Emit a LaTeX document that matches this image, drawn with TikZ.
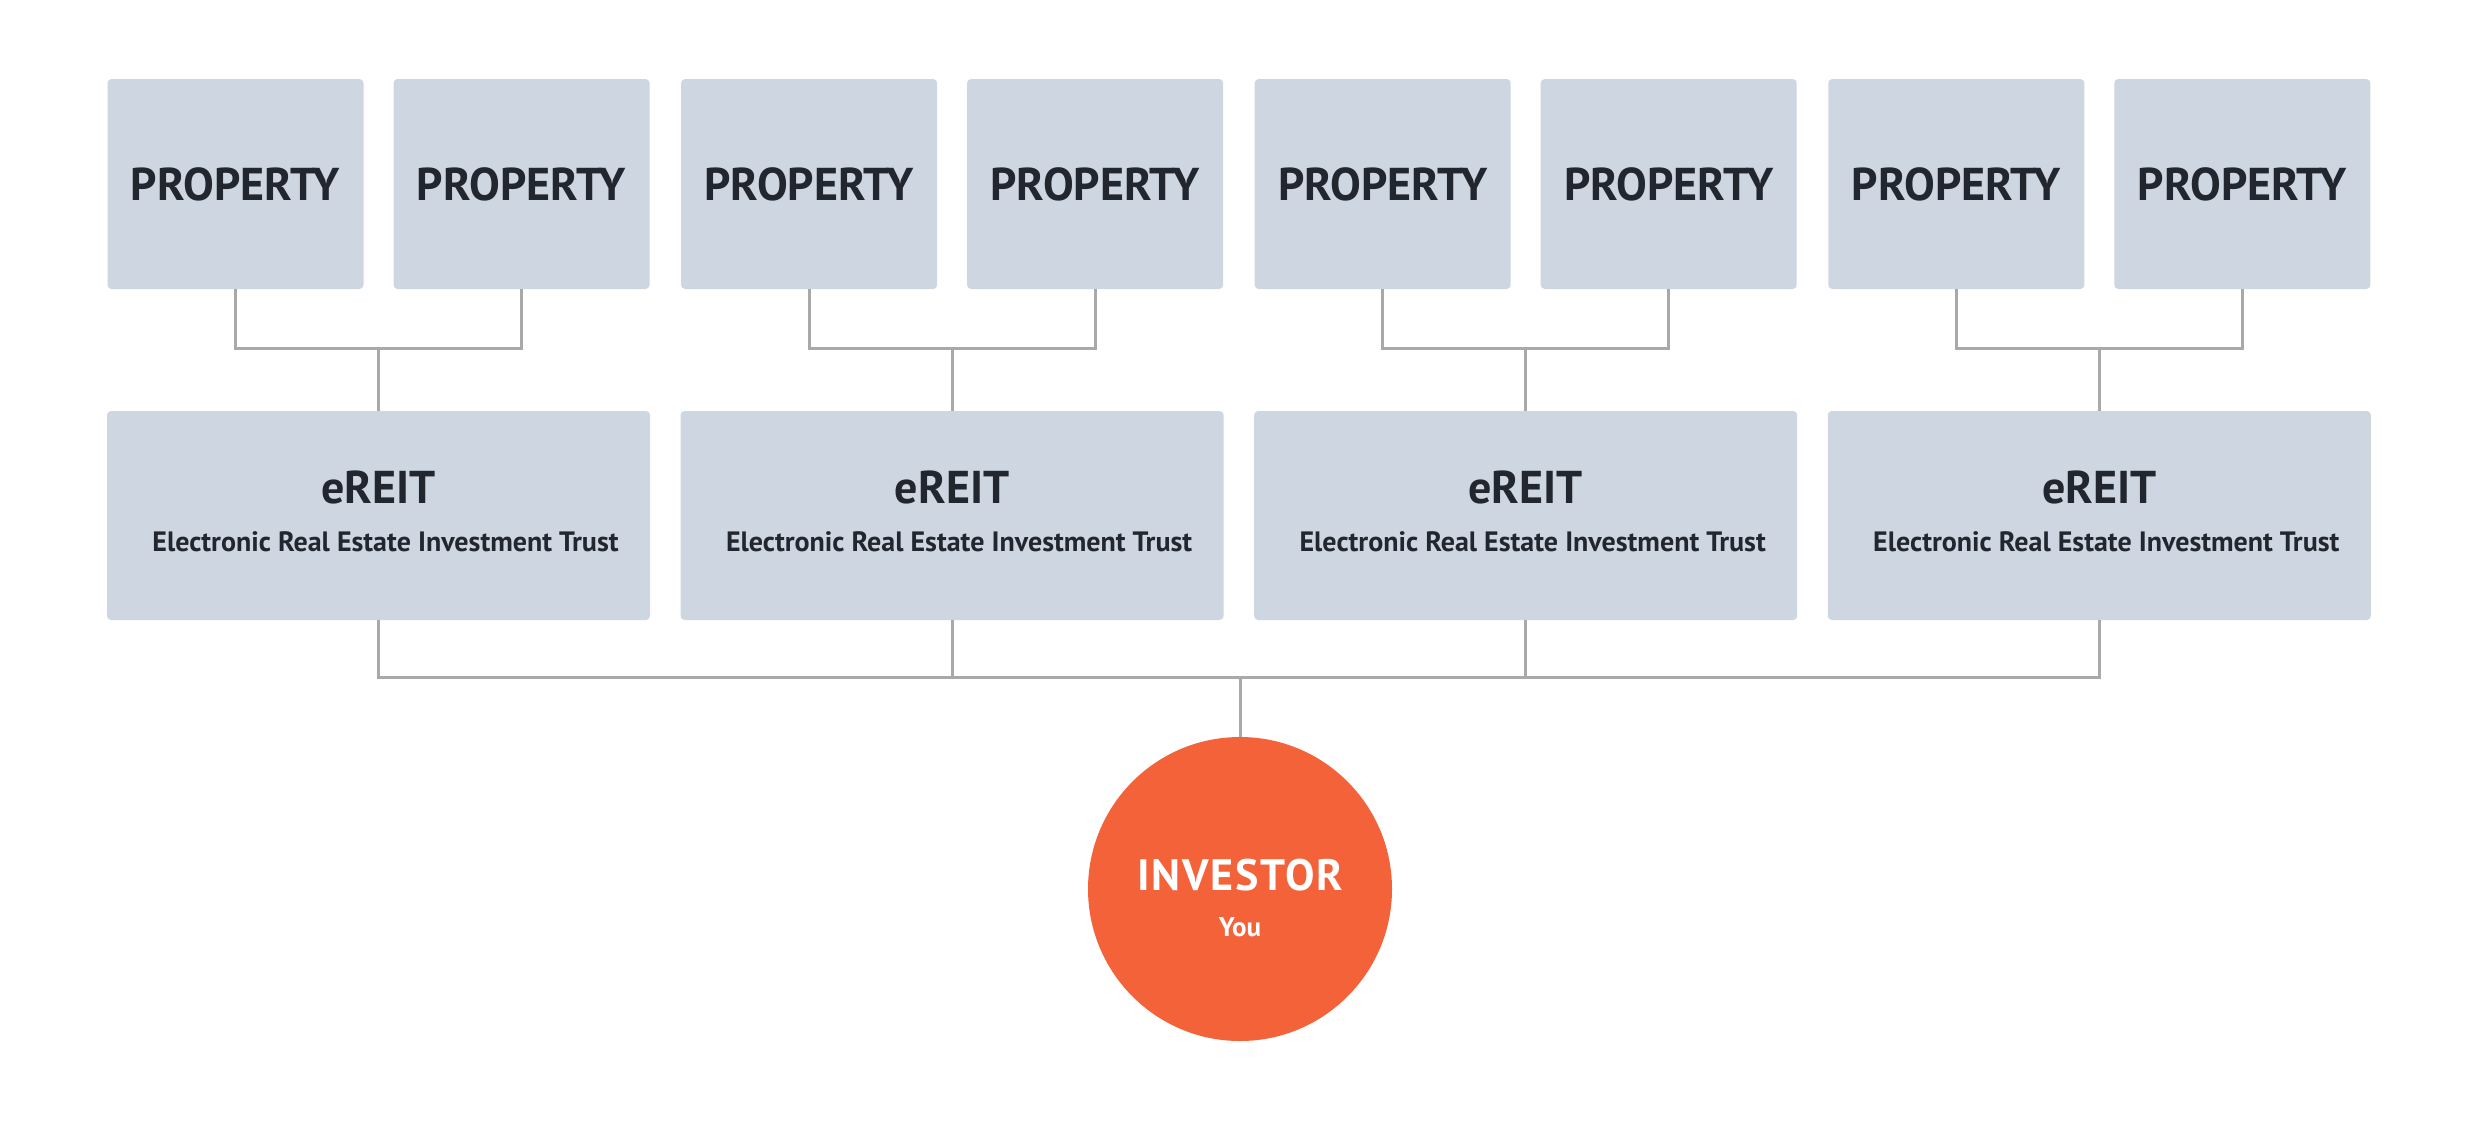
\documentclass[tikz,border=0pt]{standalone}
\usepackage{fontspec}
\setmainfont{PT Sans}
\newfontfamily\spacedfont[LetterSpace=4]{PT Sans}
\definecolor{boxfill}{HTML}{CDD6E1}
\definecolor{txt}{HTML}{22262E}
\definecolor{linegray}{HTML}{A9A9A9}
\definecolor{orange}{HTML}{F4623A}
\begin{document}
\begin{tikzpicture}[x=1pt,y=-1pt,
  propbox/.style={fill=boxfill, rounded corners=4pt, minimum width=256pt, minimum height=210pt, inner sep=0pt, text=txt, font=\fontsize{46}{50}\selectfont\bfseries},
  reitbox/.style={fill=boxfill, rounded corners=4pt, minimum width=543pt, minimum height=209pt, inner sep=0pt, text=txt, align=center, font=\fontsize{28}{48}\selectfont\bfseries},
  conn/.style={draw=linegray, line width=3pt},
  invcircle/.style={circle, fill=orange, minimum size=304pt, inner sep=0pt, text=white, align=center, font=\fontsize{27}{46}\selectfont\bfseries}]
\useasboundingbox (0,0) rectangle (2480,1122);
% property boxes
\foreach \i/\x in {1/235.5,2/521.5,3/809.1,4/1095.1,5/1382.7,6/1668.7,7/1956.3,8/2242.3}{
  \node[propbox] (p\i) at (\x,184) {PROPERTY};
}
% eREIT boxes
\foreach \i/\x in {1/378.5,2/952.1,3/1525.7,4/2099.3}{
  \node[reitbox] (e\i) at (\x,515.5) {{\fontsize{46}{48}\selectfont eREIT}\\\hspace*{14pt}Electronic Real Estate Investment Trust\rule[-8pt]{0pt}{0pt}};
}
% junction coordinates
\foreach \i/\x in {1/378.5,2/952.1,3/1525.7,4/2099.3}{
  \coordinate (j\i) at (\x,348);
}
\coordinate (b) at (1240,677);
% investor
\node[invcircle] (inv) at (1240,889) {\rule{0pt}{53pt}{\spacedfont\fontsize{44}{46}\selectfont\bfseries INVESTOR}\\You\rule[-4pt]{0pt}{0pt}};
% connectors top
\draw[conn] (p1.south) |- (j1) -| (p2.south);
\draw[conn] (p3.south) |- (j2) -| (p4.south);
\draw[conn] (p5.south) |- (j3) -| (p6.south);
\draw[conn] (p7.south) |- (j4) -| (p8.south);
\foreach \i in {1,2,3,4}{ \draw[conn] (j\i) -- (e\i.north); }
% connectors bottom
\draw[conn] (e1.south) |- (b) -| (e4.south);
\draw[conn] (e2.south) |- (b);
\draw[conn] (e3.south) |- (b);
\draw[conn] (b) -- (inv.north);
\end{tikzpicture}
\end{document}
